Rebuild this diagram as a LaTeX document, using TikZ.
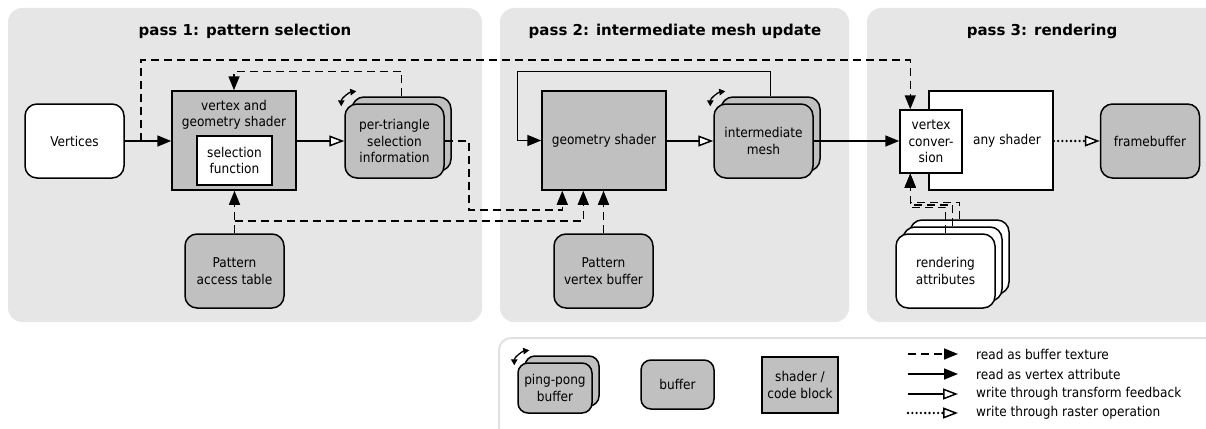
\documentclass[tikz,border=0pt]{standalone}
\usepackage{fontspec}
\IfFontExistsTF{DejaVu Sans Condensed}{\setmainfont{DejaVu Sans Condensed}\def\bodysize{13.5}}{\setmainfont{DejaVu Sans}\def\bodysize{12.3}}
\newfontfamily\titlefont{DejaVu Sans}
\usetikzlibrary{arrows.meta,calc}
\definecolor{panelgray}{HTML}{E6E6E6}
\definecolor{boxgray}{HTML}{C0C0C0}
\definecolor{legendgray}{HTML}{E2E2E2}
\begin{document}
\begin{tikzpicture}[x=1pt,y=-1pt,
  every node/.style={font=\fontsize{\bodysize}{16.5}\selectfont, align=center, inner sep=0pt},
  panel/.style={fill=panelgray, rounded corners=14pt},
  title/.style={font=\titlefont\fontsize{15}{18}\selectfont\bfseries, anchor=base},
  bufbase/.style={draw, line width=1.5pt, rounded corners=12pt, minimum width=99pt, minimum height=74pt},
  gbuf/.style={bufbase, fill=boxgray},
  wbuf/.style={bufbase, fill=white},
  shader/.style={draw, line width=1.5pt, fill=boxgray},
  wshader/.style={draw, line width=1.5pt, fill=white},
  arr/.style={line width=1.5pt},
  bt/.style={arr, dash pattern=on 8pt off 5pt, -{Triangle[length=14pt,width=11pt]}},
  va/.style={arr, -{Triangle[length=14pt,width=11pt]}},
  tf/.style={arr, -{Triangle[length=15pt,width=11pt,fill=white]}},
  rop/.style={line width=2.6pt, dash pattern=on 0pt off 4.3pt, line cap=round, -{Triangle[length=15pt,width=11pt,fill=white,line width=1.5pt]}},
  rot/.style={line width=1.3pt, {Triangle[length=6pt,width=6.5pt]}-{Triangle[length=6pt,width=6.5pt]}},
  legtext/.style={anchor=west}
]
\useasboundingbox (0,0) rectangle (1206,428);
\clip (0,0) rectangle (1206,428);

% panels
\fill[panel] (8,8) rectangle (482,322);
\fill[panel] (500,8) rectangle (849,322);
\fill[panel] (867,8) rectangle (1230,322);
\draw[legendgray, line width=2pt, fill=white, rounded corners=12pt] (499,338) rectangle (1240,460);

% titles
\node[title] (t1) at (245,36) {pass 1: pattern selection};
\node[title] (t2) at (675,36) {pass 2: intermediate mesh update};
\node[title] (t3) at (1042,36) {pass 3: rendering};

% pass 1
\node[wbuf] (vert) at (74.5,141) {Vertices};
\node[shader, minimum width=124pt, minimum height=99pt] (vg) at (234,140.5) {};
\node (vgt) at (234,115) {vertex and\\geometry shader};
\node[wshader, minimum width=75pt, minimum height=49pt] (sel) at (234.5,160.5) {selection\\function};
\node[gbuf] (ptb) at (401.5,134) {};
\node[gbuf] (ptf) at (394.5,141) {per-triangle\\selection\\information};
\node[gbuf] (pat) at (234.5,271) {Pattern\\access table};

% pass 2
\node[shader, minimum width=124pt, minimum height=99pt] (gs) at (604,140.5) {geometry shader};
\node[gbuf] (pvb) at (603.5,271) {Pattern\\vertex buffer};
\node[gbuf] (imb) at (770.5,134) {};
\node[gbuf] (imf) at (763.5,141) {intermediate\\mesh};

% pass 3
\node[wshader, minimum width=124pt, minimum height=99pt] (any) at (991,140.5) {};
\node (anyt) at (1007,141) {any shader};
\node[wshader, minimum width=62pt, minimum height=63pt] (vc) at (931,141.5) {vertex\\conver-\\sion};
\node[gbuf] (fb) at (1150,141) {framebuffer};
\node[wbuf] (rab) at (959.5,257) {};
\node[wbuf] (ram) at (952.5,264) {};
\node[wbuf] (raf) at (945.5,271) {rendering\\attributes};

% rotation marks
\draw[rot] ([shift={(-3,3)}]ptf.north west) .. controls +(0,-8) and +(-7,1) .. ([shift={(12,-12)}]ptf.north west);
\draw[rot] ([shift={(-3,3)}]imf.north west) .. controls +(0,-8) and +(-7,1) .. ([shift={(12,-12)}]imf.north west);

% connectors pass 1
\coordinate (j1) at (141,141);
\draw[va] (vert.east) -- (vg.west |- vert.east);
\draw[bt] (j1) -- ++(0,-81) -| ([xshift=11pt]vc.north west);
\draw[bt] (ptb.north) -- ++(0,-25) -| (vg.north);
\draw[tf] (vg.east |- ptf.west) -- (ptf.west);
\draw[bt] (ptf.east) -- ++(24,0) -- ++(0,69) -| ([xshift=21pt]gs.south west);
\draw[bt] (pat.north) -- (pat.north |- vg.south);
\coordinate (j2) at (234.5,221);
\draw[bt] (j2) -| ([xshift=42pt]gs.south west);

% connectors pass 2
\draw[bt] (pvb.north) -- (pvb.north |- gs.south);
\draw[va] (imb.north) -- ++(0,-25) -| ([xshift=-24pt]gs.west) -- (gs.west);
\draw[tf] (gs.east |- imf.west) -- (imf.west);
\draw[va] (imf.east) -- (vc.west |- imf.east);

% connectors pass 3
\draw[rop] (any.east |- fb.west) -- (fb.west);
\draw[bt] (raf.north) -- ++(0,-26) -| ([xshift=11pt]vc.south west);
\draw[bt] (ram.north) -- ++(0,-21.5) -| ([xshift=11pt]vc.south west);
\draw[bt] (rab.north) -- ++(0,-17) -| ([xshift=11pt]vc.south west);

% legend shapes
\node[gbuf, minimum width=74pt, minimum height=50pt, rounded corners=10pt] (ppb) at (562,381) {};
\node[gbuf, minimum width=74pt, minimum height=50pt, rounded corners=10pt] (ppf) at (555,388) {ping-pong\\buffer};
\draw[rot] ([shift={(-3,3)}]ppf.north west) .. controls +(0,-8) and +(-7,1) .. ([shift={(12,-12)}]ppf.north west);
\node[gbuf, minimum width=73pt, minimum height=49pt, rounded corners=10pt] (lbuf) at (677.5,384.5) {buffer};
\node[shader, minimum width=76pt, minimum height=56pt] (lsc) at (800,385) {shader /\\code block};

% legend arrows
\coordinate (l1a) at (908,354); \coordinate (l1b) at (958,354);
\coordinate (l2a) at (908,374); \coordinate (l2b) at (958,374);
\coordinate (l3a) at (908,394); \coordinate (l3b) at (958,394);
\coordinate (l4a) at (908,413); \coordinate (l4b) at (958,413);
\draw[bt] (l1a) -- (l1b);
\draw[va] (l2a) -- (l2b);
\draw[tf] (l3a) -- (l3b);
\draw[rop] (l4a) -- (l4b);
\node[legtext] (lt1) at (976,354) {read as buffer texture};
\node[legtext] (lt2) at (976,374) {read as vertex attribute};
\node[legtext] (lt3) at (976,394) {write through transform feedback};
\node[legtext] (lt4) at (976,413) {write through raster operation};
\end{tikzpicture}
\end{document}
